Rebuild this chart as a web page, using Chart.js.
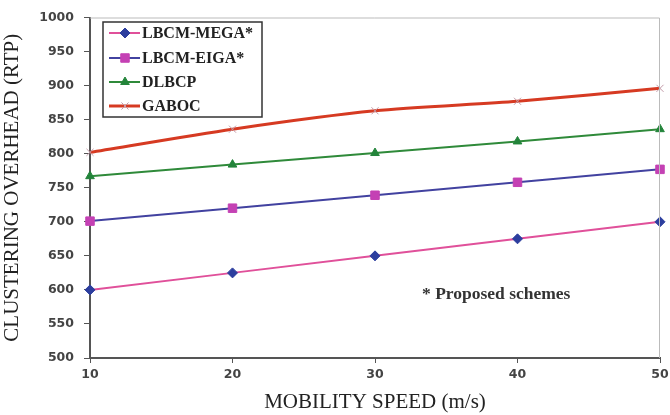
<!DOCTYPE html>
<html>
<head>
<meta charset="utf-8">
<script src="https://cdn.jsdelivr.net/npm/chart.js@4"></script>
<style>
  html, body { margin: 0; padding: 0; background: #fff; }
  #wrap { width: 670px; height: 415px; position: relative; }
</style>
</head>
<body>
<div id="wrap"><canvas id="grafica"></canvas></div>
<script>
// valores
const speeds = ['10', '20', '30', '40', '50'];
const lbcmMega = [600, 625, 650, 675, 700];
const lbcmEiga = [701, 720, 739, 758, 777];
const dlbcp = [767, 784, 801, 818, 836];
const gaboc = [802, 836, 863, 877, 896];
const yTicks = [500, 550, 600, 650, 700, 750, 800, 850, 900, 950, 1000];

const serif = '"Liberation Serif", "Times New Roman", serif';
const sans = '"DejaVu Sans", Verdana, sans-serif';

// caja de leyenda dentro del area del grafico
const legendBox = {
  id: 'legendBox',
  afterDraw(chart) {
    const ctx = chart.ctx;
    ctx.save();
    ctx.fillStyle = '#fff';
    ctx.fillRect(103, 22, 159, 95);
    ctx.strokeStyle = '#333';
    ctx.lineWidth = 1.5;
    ctx.strokeRect(103, 22, 159, 95);
    const rows = [33, 58, 82, 106];
    chart.data.datasets.forEach((ds, i) => {
      const y = rows[i];
      ctx.strokeStyle = ds.borderColor;
      ctx.lineWidth = ds.borderWidth;
      ctx.beginPath();
      ctx.moveTo(109, y);
      ctx.lineTo(140, y);
      ctx.stroke();
      ctx.fillStyle = ds.pointBackgroundColor;
      ctx.strokeStyle = ds.pointBorderColor;
      ctx.lineWidth = ds.pointBorderWidth;
      Chart.helpers.drawPoint(ctx, {
        pointStyle: ds.pointStyle,
        radius: ds.pointRadius,
        rotation: 0,
        borderWidth: ds.pointBorderWidth
      }, 125, y);
      ctx.fillStyle = '#222';
      ctx.font = 'bold 16px ' + serif;
      ctx.textBaseline = 'middle';
      ctx.fillText(ds.label, 142, y + 1);
    });
    // nota
    ctx.font = 'bold 17.5px ' + serif;
    ctx.fillStyle = '#333';
    ctx.textBaseline = 'middle';
    ctx.fillText('* Proposed schemes', 422, 294);
    // marco superior y derecho
    const a = chart.chartArea;
    ctx.strokeStyle = '#bbb';
    ctx.lineWidth = 1;
    ctx.beginPath();
    ctx.moveTo(a.left, a.top + 0.5);
    ctx.lineTo(a.right - 0.5, a.top + 0.5);
    ctx.lineTo(a.right - 0.5, a.bottom);
    ctx.stroke();
    ctx.restore();
  }
};

function serie(label, data, line, mark, style, radius, width, tension) {
  return {
    label: label,
    data: data,
    borderColor: line,
    borderWidth: width,
    pointStyle: style,
    pointRadius: radius,
    pointBackgroundColor: mark,
    pointBorderColor: mark,
    pointBorderWidth: 1,
    tension: tension,
    fill: false
  };
}

const ctx = document.getElementById('grafica').getContext('2d');
new Chart(ctx, {
  type: 'line',
  data: {
    labels: speeds,
    datasets: [
      serie('LBCM-MEGA*', lbcmMega, '#e0509a', '#2c3e9e', 'rectRot', 5, 2, 0),
      serie('LBCM-EIGA*', lbcmEiga, '#4242a0', '#c441b4', 'rect', 6, 2, 0),
      serie('DLBCP', dlbcp, '#2f8a3a', '#23843a', 'triangle', 5, 2, 0),
      serie('GABOC', gaboc, '#d63a22', '#c29aa8', 'crossRot', 5, 3, 0.25)
    ]
  },
  options: {
    responsive: true,
    maintainAspectRatio: false,
    animation: false,
    layout: { padding: { top: 15, right: 10, left: 0, bottom: 0 } },
    plugins: {
      legend: { display: false },
      tooltip: { enabled: false }
    },
    scales: {
      x: {
        offset: false,
        grid: { display: true, drawOnChartArea: false, drawTicks: true, tickLength: 5, color: '#555' },
        border: { display: true, color: '#555', width: 2 },
        ticks: { color: '#444', font: { family: sans, size: 12.5, weight: 'bold' }, padding: 4, maxRotation: 0 },
        title: { display: true, text: 'MOBILITY SPEED (m/s)', color: '#222', font: { family: serif, size: 21 }, padding: { top: 6, bottom: 0 } },
        afterFit(scale) { scale.height = 57; scale.paddingRight = 0; }
      },
      y: {
        min: 500,
        max: 1000,
        afterBuildTicks(scale) { scale.ticks = yTicks.map(v => ({ value: v })); },
        grid: { display: true, drawOnChartArea: false, drawTicks: true, tickLength: 6, color: '#555' },
        border: { display: true, color: '#555', width: 2 },
        ticks: { color: '#444', font: { family: sans, size: 12.5, weight: 'bold' }, padding: 10, callback: v => String(v) },
        title: { display: true, text: 'CLUSTERING OVERHEAD (RTP)', color: '#222', font: { family: serif, size: 21 }, padding: { top: 0, bottom: 3 } },
        afterFit(scale) { scale.width = 90; }
      }
    }
  },
  plugins: [legendBox]
});
</script>
</body>
</html>
